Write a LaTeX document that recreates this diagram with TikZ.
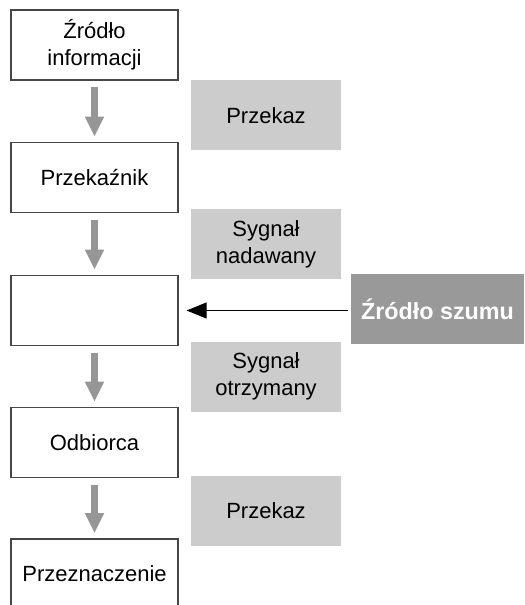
\documentclass[tikz,border=0pt]{standalone}
\usepackage{fontspec}
\setmainfont{Liberation Sans}
\usetikzlibrary{arrows.meta,calc}
\definecolor{boxline}{RGB}{70,70,70}
\definecolor{lightg}{RGB}{204,204,204}
\definecolor{darkg}{RGB}{153,153,153}
\definecolor{arrg}{RGB}{150,150,150}
\begin{document}
\begin{tikzpicture}[x=0.75pt,y=-0.75pt,
  txt/.style={font=\fontsize{16.5}{20}\selectfont, align=center, inner sep=0pt},
  whitebox/.style={txt, draw=boxline, line width=0.9pt, fill=white, minimum width=125.25pt, minimum height=52.5pt},
  graybox/.style={txt, fill=lightg, minimum width=112.5pt, minimum height=52.5pt},
  noisebox/.style={txt, font=\fontsize{17.5}{20}\selectfont\bfseries, text=white, fill=darkg, minimum width=129.75pt, minimum height=52.5pt},
  flow/.style={draw=arrg, line width=5.25pt, -{Triangle[width=13.5pt,length=15pt]}, shorten <=5pt, shorten >=4pt},
  noise/.style={draw=black, line width=0.8pt, -{Triangle[width=12pt,length=15pt]}, shorten >=6pt, shorten <=2pt}
]
\useasboundingbox (0,0) rectangle (524,605);
\clip (0,0) rectangle (524,605);
\node[whitebox] (b1) at (94.5,45) {Źródło\\informacji};
\node[whitebox] (b2) at (94.5,177.5) {Przekaźnik};
\node[whitebox] (b3) at (94.5,310.5) {};
\node[whitebox] (b4) at (94.5,442.5) {Odbiorca};
\node[whitebox] (b5) at (94.5,574) {Przeznaczenie};

\node[graybox] (g1) at (266,115.5) {Przekaz};
\node[graybox] (g2) at (266,244) {Sygnał\\nadawany};
\node[graybox] (g3) at (266,376.5) {Sygnał\\otrzymany};
\node[graybox] (g4) at (266,511) {Przekaz};

\node[noisebox] (n) at (437.5,309) {Źródło szumu};

\draw[flow] (b1.south) -- (b2.north);
\draw[flow] (b2.south) -- (b3.north);
\draw[flow] (b3.south) -- (b4.north);
\draw[flow] (b4.south) -- (b5.north);

\draw[noise] (n.west |- b3.east) -- (b3.east);
\end{tikzpicture}
\end{document}
